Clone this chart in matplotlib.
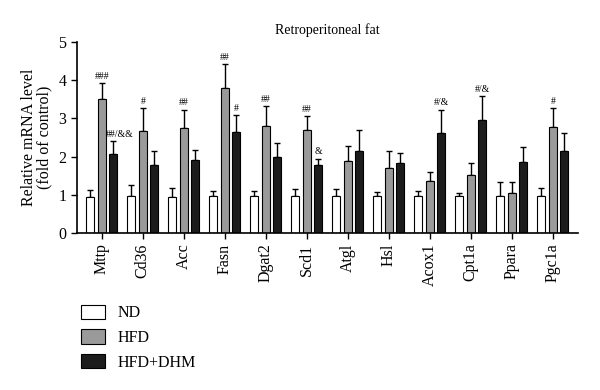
import numpy as np
import matplotlib.pyplot as plt
from matplotlib.patches import Patch

plt.rcParams['font.family'] = ['Liberation Serif', 'DejaVu Serif']

genes = ['Mttp', 'Cd36', 'Acc', 'Fasn', 'Dgat2', 'Scd1', 'Atgl', 'Hsl',
         'Acox1', 'Cpt1a', 'Ppara', 'Pgc1a']
groups = ['ND', 'HFD', 'HFD+DHM']

nd = [0.94, 0.97, 0.94, 0.97, 0.97, 0.97, 0.97, 0.96, 0.97, 0.97, 0.97, 0.96]
nd_err = [0.19, 0.30, 0.25, 0.14, 0.13, 0.18, 0.18, 0.11, 0.13, 0.09, 0.36, 0.22]
hfd = [3.50, 2.66, 2.76, 3.80, 2.80, 2.70, 1.88, 1.70, 1.36, 1.51, 1.04, 2.78]
hfd_err = [0.43, 0.61, 0.47, 0.62, 0.53, 0.37, 0.39, 0.45, 0.23, 0.33, 0.29, 0.49]
dhm = [2.08, 1.79, 1.91, 2.64, 2.00, 1.77, 2.16, 1.84, 2.61, 2.96, 1.86, 2.14]
dhm_err = [0.32, 0.35, 0.26, 0.45, 0.36, 0.18, 0.53, 0.26, 0.62, 0.63, 0.38, 0.47]

hfd_marks = ['###', '#', '##', '##', '##', '##', '', '', '', '', '', '#']
dhm_marks = ['##/&&', '', '', '#', '', '&', '', '', '#/&', '#/&', '', '']

colors = ['white', '#9a9a9a', '#1c1c1c']

fig = plt.figure(figsize=(6, 3.9), dpi=100)
ax = fig.add_axes([0.128, 0.4026, 0.835, 0.4894])

x = np.arange(len(genes))
off = 0.28
w = 0.19
series = [(nd, nd_err), (hfd, hfd_err), (dhm, dhm_err)]
for i, (vals, errs) in enumerate(series):
    xs = x + (i - 1) * off
    ax.bar(xs, vals, width=w, color=colors[i], edgecolor='black', linewidth=0.8,
           label=groups[i], zorder=2)
    ax.errorbar(xs, vals, yerr=[np.zeros(len(vals)), errs], fmt='none',
                ecolor='black', elinewidth=1, capsize=2, capthick=1, zorder=1)

# significance marks above the error bars
for i in range(len(genes)):
    if hfd_marks[i]:
        ax.text(x[i], hfd[i] + hfd_err[i] + 0.06, hfd_marks[i], ha='center',
                va='bottom', fontsize=7)
    if dhm_marks[i]:
        dx = 0.15 if len(dhm_marks[i]) > 3 else 0.0
        ax.text(x[i] + off + dx, dhm[i] + dhm_err[i] + 0.06, dhm_marks[i],
                ha='center', va='bottom', fontsize=7)

ax.set_xlim(-0.61, len(genes) - 1 + 0.61)
ax.set_ylim(0, 5)
ax.set_yticks(range(6))
ax.set_xticks(x)
ax.set_xticklabels(genes, rotation=90, fontsize=11.5)
ax.tick_params(axis='y', labelsize=11.5, length=4, width=1)
ax.tick_params(axis='x', length=4, width=1)
ax.spines['top'].set_visible(False)
ax.spines['right'].set_visible(False)
ax.spines['left'].set_linewidth(1.2)
ax.spines['bottom'].set_linewidth(1.2)
ax.set_ylabel('Relative mRNA level\n(fold of control)', fontsize=11.5,
              linespacing=1.0)
ax.set_title('Retroperitoneal fat', fontsize=10, pad=6)

handles = [Patch(facecolor=c, edgecolor='black', linewidth=0.8) for c in colors]
fig.legend(handles, groups, loc='upper left', bbox_to_anchor=(0.125, 0.235),
           frameon=False, fontsize=11.5, handlelength=1.5, handleheight=1.0,
           labelspacing=0.5, handletextpad=0.75, borderaxespad=0)

fig.savefig('out.png', dpi=100)
